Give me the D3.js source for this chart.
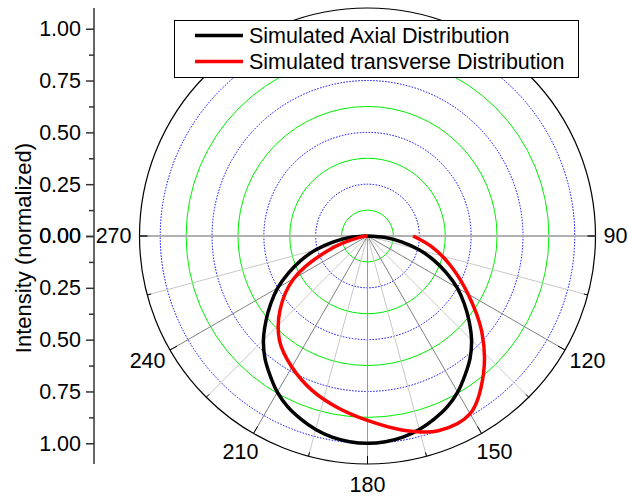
<!DOCTYPE html>
<html>
<head>
<meta charset="utf-8">
<script src="https://cdn.jsdelivr.net/npm/d3@7"></script>
<style>
  html, body { margin: 0; padding: 0; background: #fff; }
  svg { display: block; font-family: "Liberation Sans", Arial, sans-serif; }
</style>
</head>
<body>
<svg id="chart" width="628" height="496"></svg>
<script>
// ---- data ----
const axialAngles = [90, 95, 100, 105, 110, 115, 120, 125, 130, 135, 140, 145, 150, 155, 160, 165, 170, 175, 180,
                     185, 190, 195, 200, 205, 210, 215, 220, 225, 230, 235, 240, 245, 250, 255, 260, 265, 270];
const axialValues = [0, 0.087, 0.17, 0.26, 0.34, 0.42, 0.50, 0.57, 0.64, 0.71, 0.77, 0.82, 0.87, 0.91, 0.94, 0.966, 0.985, 0.996, 1.00,
                     0.996, 0.985, 0.966, 0.94, 0.91, 0.87, 0.82, 0.77, 0.71, 0.64, 0.57, 0.50, 0.42, 0.34, 0.26, 0.17, 0.087, 0];
const transverseAngles = [90, 100, 110, 120, 130, 140, 150, 160, 170, 180, 190, 200, 210, 220, 230, 240, 250, 260, 270];
const transverseValues = [0.22, 0.32, 0.43, 0.56, 0.72, 0.87, 0.99, 1.00, 0.95, 0.89, 0.84, 0.79, 0.73, 0.66, 0.55, 0.41, 0.20, 0.04, 0];
const seriesNames = ["Simulated Axial Distribution", "Simulated transverse Distribution"];
const seriesColors = ["#000000", "#ff0000"];
const angleTickLabels = [90, 120, 150, 180, 210, 240, 270];
const angleMinorTicks = [105, 135, 165, 195, 225, 255];
const radialTickValues = [0, 0.25, 0.5, 0.75, 1.0];
const radialMinorValues = [0.125, 0.375, 0.625, 0.875];
const greenRings = [0.125, 0.375, 0.625, 0.875];
const blueRings = [0.25, 0.5, 0.75, 1.0];
const radialMax = 1.1;

// ---- layout ----
const svg = d3.select("#chart");
const cx = 367.5, cy = 236, R = 228;
const r = d3.scaleLinear().domain([0, radialMax]).range([0, R]);
const rad = d => d * Math.PI / 180;

const g = svg.append("g").attr("transform", `translate(${cx},${cy})`);

// rings
g.selectAll("circle.green").data(greenRings).join("circle")
  .attr("r", d => r(d)).attr("fill", "none").attr("stroke", "#00ee00").attr("stroke-width", 1);
g.selectAll("circle.blue").data(blueRings).join("circle")
  .attr("r", d => r(d)).attr("fill", "none").attr("stroke", "#0000ff").attr("stroke-width", 1)
  .attr("stroke-dasharray", "1.5,1.5");

// spokes
const spokeAngles = d3.range(105, 270, 15);
function spokeColor(a) {
  if (a === 180) return "#999999";
  if (a % 30 === 0) return "#808080";
  return "#c8c8c8";
}
g.selectAll("line.spoke").data(spokeAngles).join("line")
  .attr("x1", 0).attr("y1", 0)
  .attr("x2", a => r(radialMax) * Math.sin(rad(a)))
  .attr("y2", a => -r(radialMax) * Math.cos(rad(a)))
  .attr("stroke", spokeColor).attr("stroke-width", 1);
g.append("line")
  .attr("x1", -r(radialMax)).attr("x2", r(radialMax)).attr("y1", 0).attr("y2", 0)
  .attr("stroke", "#b0b0b0").attr("stroke-width", 2);

// outer circle
g.append("circle").attr("r", r(radialMax)).attr("fill", "none").attr("stroke", "#000").attr("stroke-width", 1.2);

// angular ticks
g.selectAll("line.maj").data(angleTickLabels).join("line")
  .attr("x1", a => r(radialMax) * Math.sin(rad(a)))
  .attr("y1", a => -r(radialMax) * Math.cos(rad(a)))
  .attr("x2", a => (r(radialMax) - 8) * Math.sin(rad(a)))
  .attr("y2", a => -(r(radialMax) - 8) * Math.cos(rad(a)))
  .attr("stroke", a => (a === 90 || a === 270) ? "#444" : "#000")
  .attr("stroke-width", a => (a === 90 || a === 270) ? 2 : 1);
g.selectAll("line.min").data(angleMinorTicks).join("line")
  .attr("x1", a => r(radialMax) * Math.sin(rad(a)))
  .attr("y1", a => -r(radialMax) * Math.cos(rad(a)))
  .attr("x2", a => (r(radialMax) - 4) * Math.sin(rad(a)))
  .attr("y2", a => -(r(radialMax) - 4) * Math.cos(rad(a)))
  .attr("stroke", "#000").attr("stroke-width", 1);

// angular labels
const labelR = 236;
angleTickLabels.forEach(a => {
  const dx = Math.sin(rad(a)), dy = -Math.cos(rad(a));
  const t = g.append("text").text(a).attr("font-size", 21.5).attr("fill", "#000")
    .attr("text-anchor", "middle").attr("dominant-baseline", "central");
  const w = t.node().getComputedTextLength();
  const h = 26;
  t.attr("x", labelR * dx + dx * w / 2).attr("y", labelR * dy + dy * h / 2);
});

// series
const line = d3.lineRadial()
  .angle(d => rad(d[0]))
  .radius(d => r(d[1]))
  .curve(d3.curveCatmullRom.alpha(0.5));
const series = [
  axialAngles.map((a, j) => [a, axialValues[j]]),
  transverseAngles.map((a, j) => [a, transverseValues[j]])
];
series.forEach((pts, i) => {
  g.append("path")
    .datum(pts)
    .attr("d", line)
    .attr("fill", "none")
    .attr("stroke", seriesColors[i])
    .attr("stroke-width", 3.5)
    .attr("stroke-linejoin", "round");
});

// left vertical axis (radial scale mirrored)
const axX = 94;
const yTop = d3.scaleLinear().domain([0, radialMax]).range([cy, cy - R]);
const yBot = d3.scaleLinear().domain([0, radialMax]).range([cy, cy + R]);
const ax = svg.append("g");
ax.append("line").attr("x1", axX).attr("x2", axX).attr("y1", cy - R).attr("y2", cy + R)
  .attr("stroke", "#333").attr("stroke-width", 1.5);
[yTop, yBot].forEach(sc => {
  ax.append("g").attr("transform", `translate(${axX},0)`)
    .call(d3.axisLeft(sc).tickValues(radialTickValues).tickFormat(d3.format(".2f")).tickSize(8).tickPadding(5))
    .call(s => s.select(".domain").remove())
    .call(s => s.selectAll("line").attr("stroke", "#333").attr("stroke-width", 1.5))
    .call(s => s.selectAll("text").attr("font-size", 21.5).attr("fill", "#000").attr("font-family", "Liberation Sans, Arial, sans-serif"));
  ax.append("g").attr("transform", `translate(${axX},0)`)
    .call(d3.axisLeft(sc).tickValues(radialMinorValues).tickFormat("").tickSize(5))
    .call(s => s.select(".domain").remove())
    .call(s => s.selectAll("line").attr("stroke", "#333").attr("stroke-width", 1.5));
});

// axis title
svg.append("text").text("Intensity (normalized)")
  .attr("transform", `translate(31,248) rotate(-90)`)
  .attr("text-anchor", "middle").attr("font-size", 22).attr("fill", "#000");

// legend
const lg = svg.append("g");
lg.append("rect").attr("x", 174.5).attr("y", 20.5).attr("width", 404).attr("height", 57)
  .attr("fill", "#fff").attr("stroke", "#000").attr("stroke-width", 1);
seriesNames.forEach((name, i) => {
  const yy = 35.5 + i * 26;
  lg.append("line").attr("x1", 195).attr("x2", 243).attr("y1", yy).attr("y2", yy)
    .attr("stroke", seriesColors[i]).attr("stroke-width", 3.5);
  lg.append("text").text(name).attr("x", 249).attr("y", yy + 7.7)
    .attr("font-size", 21.5).attr("fill", "#000");
});
</script>
</body>
</html>
